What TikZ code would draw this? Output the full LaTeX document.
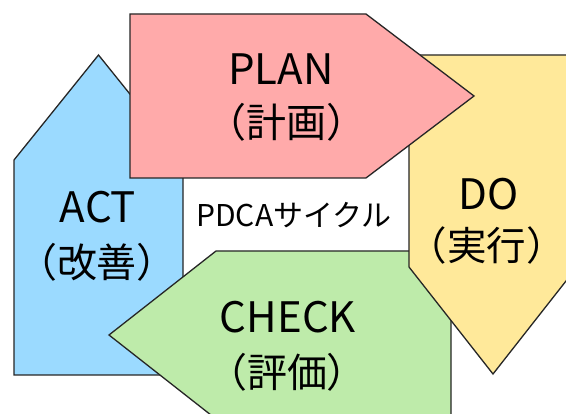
\documentclass[tikz,border=0pt]{standalone}
\usepackage{fontspec}
\setmainfont{Noto Sans CJK JP}
\definecolor{planc}{HTML}{FFAAAA}
\definecolor{actc}{HTML}{9BDAFF}
\definecolor{doc}{HTML}{FFE99A}
\definecolor{checkc}{HTML}{BEEBAA}
\begin{document}
\begin{tikzpicture}[x=1pt,y=-1pt,
  arrowshape/.style={draw=black!85,line width=1.3pt,line join=miter},
  big/.style={inner sep=0pt,font=\fontsize{42}{48}\selectfont},
  bigj/.style={inner sep=0pt,font=\fontsize{40}{48}\selectfont},
  mid/.style={inner sep=0pt,font=\fontsize{30}{36}\selectfont}]
\useasboundingbox (0,0) rectangle (566,414);
\clip (0,0) rectangle (566,414);
\fill[white] (0,0) rectangle (566,414);
% ACT (up)
\draw[arrowshape,fill=actc] (14,375) -- (14,160) -- (98.5,55) -- (183,160) -- (183,375) -- cycle;
% CHECK (left)
\draw[arrowshape,fill=checkc] (451,251) -- (216,251) -- (109,335) -- (216,419) -- (451,419) -- cycle;
% DO (down)
\draw[arrowshape,fill=doc] (409,55) -- (577,55) -- (577,267) -- (493,374) -- (409,267) -- cycle;
% PLAN (right)
\draw[arrowshape,fill=planc] (130,14) -- (366,14) -- (474,96) -- (366,178) -- (130,178) -- cycle;
% texts
\node[big,anchor=base] (planA) at (281,85) {PLAN};
\node[bigj,anchor=center] (planB) at (286,122) {（計画）};
\node[big,anchor=base] (doA) at (489,210) {DO};
\node[bigj,anchor=center,font=\fontsize{39.5}{48}\selectfont] (doB) at (486.5,245) {（実行）};
\node[big,anchor=base] (actA) at (98,223) {ACT};
\node[bigj,anchor=center] (actB) at (97,262) {（改善）};
\node[big,anchor=base] (checkA) at (288,333) {CHECK};
\node[bigj,anchor=center] (checkB) at (287,372) {（評価）};
\node[mid,anchor=base] (pdca) at (294,227) {PDCAサイクル};
\end{tikzpicture}
\end{document}
